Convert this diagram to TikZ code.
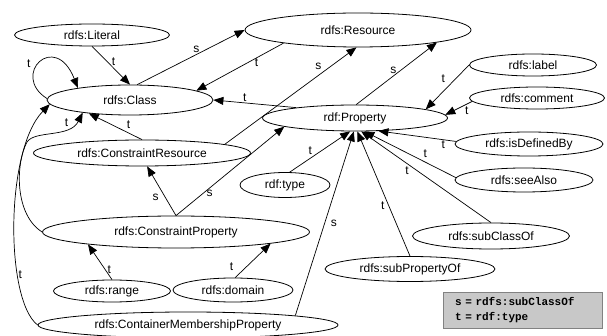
\documentclass[tikz,border=0pt]{standalone}
\usepackage{fontspec}
\setmainfont{Liberation Sans}
\setmonofont{Liberation Mono}
\usetikzlibrary{shapes.geometric,arrows.meta}

\definecolor{legendfill}{RGB}{200,200,200}
\definecolor{legenddraw}{RGB}{130,130,130}

\tikzset{
  rdfnode/.style={ellipse, draw, line width=0.8pt, inner sep=0pt, font=\fontsize{12}{14}\selectfont},
  rel/.style={line width=0.7pt, -{Triangle[length=10pt,width=8pt]}},
  lbl/.style={inner sep=1pt, font=\fontsize{12}{14}\selectfont},
}

\begin{document}
\begin{tikzpicture}[x=1pt, y=-1pt]
  \useasboundingbox (0,0) rectangle (607,336);
  \node[rdfnode, minimum width=155pt, minimum height=22pt] (Literal) at (92,35) {rdfs:Literal};
  \node[rdfnode, minimum width=226pt, minimum height=34pt] (Resource) at (358,30) {rdfs:Resource};
  \node[rdfnode, minimum width=166pt, minimum height=30pt] (Class) at (130,100) {rdfs:Class};
  \node[rdfnode, minimum width=185pt, minimum height=26pt] (Property) at (355,118) {rdf:Property};
  \node[rdfnode, minimum width=217pt, minimum height=26pt] (ConstraintResource) at (142,153) {rdfs:ConstraintResource};
  \node[rdfnode, minimum width=127pt, minimum height=22pt] (Label) at (533,65) {rdfs:label};
  \node[rdfnode, minimum width=135pt, minimum height=22pt] (Comment) at (537,98) {rdfs:comment};
  \node[rdfnode, minimum width=148pt, minimum height=24pt] (IsDefinedBy) at (529,144) {rdfs:isDefinedBy};
  \node[rdfnode, minimum width=138pt, minimum height=24pt] (SeeAlso) at (524,180) {rdfs:seeAlso};
  \node[rdfnode, minimum width=157pt, minimum height=26pt] (SubClassOf) at (491,236) {rdfs:subClassOf};
  \node[rdfnode, minimum width=170pt, minimum height=25pt] (SubPropertyOf) at (410,269) {rdfs:subPropertyOf};
  \node[rdfnode, minimum width=90pt, minimum height=25pt] (Type) at (285,185) {rdf:type};
  \node[rdfnode, minimum width=267pt, minimum height=32pt] (ConstraintProperty) at (176,232) {rdfs:ConstraintProperty};
  \node[rdfnode, minimum width=117pt, minimum height=22pt] (Range) at (112,291) {rdfs:range};
  \node[rdfnode, minimum width=120pt, minimum height=24pt] (Domain) at (233,290) {rdfs:domain};
  \node[rdfnode, minimum width=300pt, minimum height=26pt] (ContainerMembershipProperty) at (188,325) {rdfs:ContainerMembershipProperty};
  \node[draw=legenddraw, fill=legendfill, line width=0.8pt, minimum width=159pt, minimum height=36pt,
        text width=135pt, align=left, font=\ttfamily\bfseries\fontsize{11}{15}\selectfont] (Legend) at (522.5,310)
        {s = rdfs:subClassOf\\t = rdf:type};

  \draw[rel] (Literal.south) -- node[lbl, pos=0.41, right=3pt] {t} (Class.north);
  \draw[rel] (Class.65) -- node[lbl, pos=0.55, above=1pt] {s} (Resource.west);
  \draw[rel] (Resource.190) -- node[lbl, pos=0.31, below=0pt] {t} (Class.8);
  \draw[rel] (Class.179) .. controls (10,75) and (55,30) .. (Class.167) node[lbl, pos=0.35, above left=2pt] {t};
  \draw[rel] (Property.170) -- node[lbl, pos=0.62, above=0pt] {t} (Class.east);
  \draw[rel] (ConstraintResource.north) -- node[lbl, pos=0.33, above right=1pt] {t} (Class.198);
  \draw[rel] (ConstraintProperty.west) .. controls (15,215) and (15,165) .. (27,142)
    .. controls (35,130) and (70,138) .. (Class.195) node[lbl, pos=0.7, above=0pt] {t};
  \draw[rel] (ContainerMembershipProperty.west) .. controls (5,300) and (5,150) .. (Class.183) node[lbl, pos=0.3, right=0pt] {t};
  \draw[rel] (Property.85) -- node[lbl, pos=0.46, above=1pt] {s} (Resource.-9);
  \draw[rel] (ConstraintResource.6) -- node[lbl, pos=0.71, above=5pt] {s} (Resource.265);
  \draw[rel] (ConstraintProperty.north) -- node[lbl, pos=0.38, left=5pt] {s} (ConstraintResource.-69);
  \draw[rel] (ConstraintProperty.north) -- node[lbl, pos=0.31, below=1pt] {s} (Property.187);
  \draw[rel] (Range.north) -- node[lbl, pos=0.285, right=1pt] {t} (ConstraintProperty.188);
  \draw[rel] (Domain.80) -- node[lbl, pos=0.07, above left=3pt] {t} (ConstraintProperty.-7);
  \draw[rel] (Label.west) -- node[lbl, pos=0.48, above left=2pt] {t} (Property.7);
  \draw[rel] (Comment.183) -- node[lbl, pos=0.31, below right=0pt] {t} (Property.2);
  \draw[rel] (IsDefinedBy.178) -- node[lbl, pos=0.165, below=0pt] {t} (Property.-29);
  \draw[rel] (SeeAlso.178) -- node[lbl, pos=0.377, above right=1pt] {t} (Property.-55);
  \draw[rel] (SubClassOf.north) -- node[lbl, pos=0.623, below left=0pt] {t} (Property.-65);
  \draw[rel] (SubPropertyOf.north) -- node[lbl, pos=0.405, left=3pt] {t} (Property.-80);
  \draw[rel] (Type.70) -- node[lbl, pos=0.39, above left=0pt] {t} (Property.-110);
  \draw[rel] (ContainerMembershipProperty.5) -- node[lbl, pos=0.5, right=5pt] {s} (Property.-95);
\end{tikzpicture}
\end{document}
